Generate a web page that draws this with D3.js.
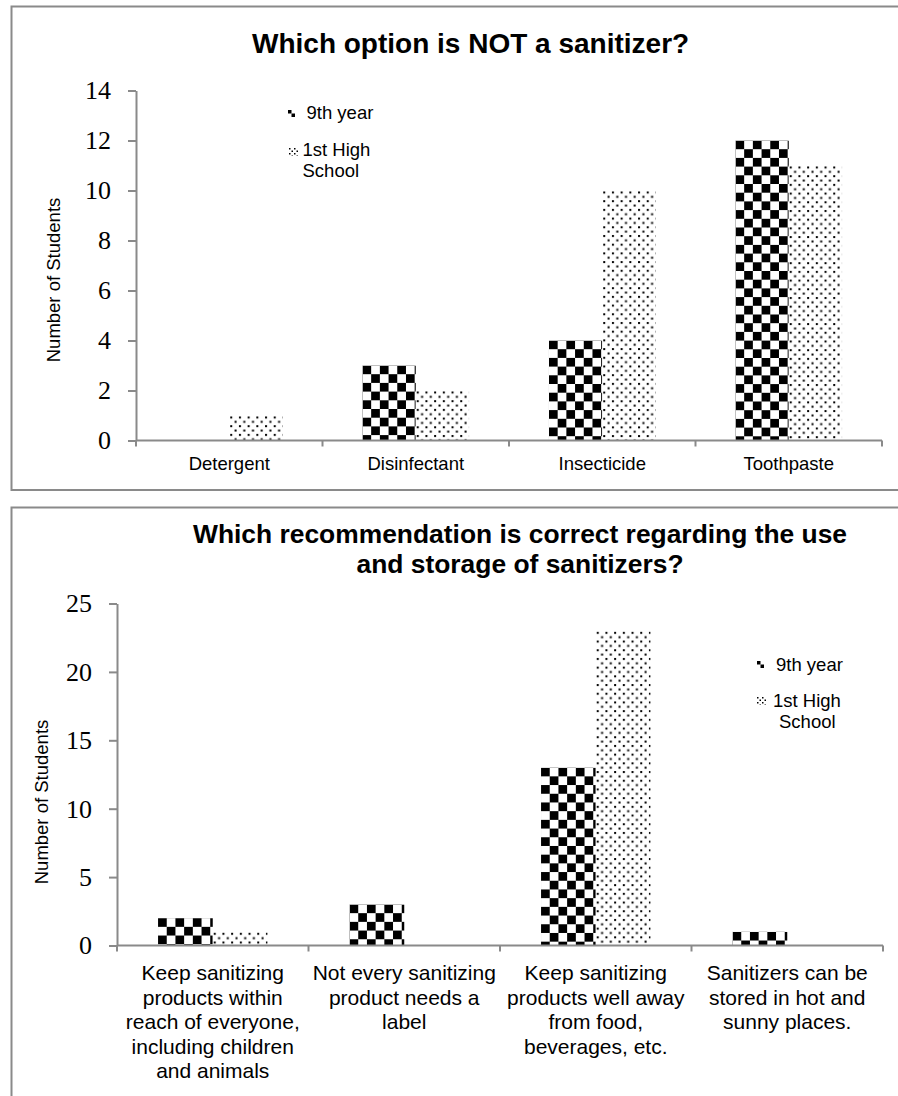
<!DOCTYPE html>
<html>
<head>
<meta charset="utf-8">
<script src="https://cdn.jsdelivr.net/npm/d3@7"></script>
<style>
  html, body { margin: 0; padding: 0; background: #fff; }
  svg { display: block; }
</style>
</head>
<body>
<div id="chart"></div>
<script>
// ---------- data ----------
const seriesNames = ["9th year", "1st High School"];

const cats1 = ["Detergent", "Disinfectant", "Insecticide", "Toothpaste"];
const ninth1 = [0, 3, 4, 12];
const highSchool1 = [1, 2, 10, 11];
const ticks1 = [0, 2, 4, 6, 8, 10, 12, 14];
const title1 = ["Which option is NOT a sanitizer?"];

const cats2 = [
  ["Keep sanitizing", "products within", "reach of everyone,", "including children", "and animals"],
  ["Not every sanitizing", "product needs a", "label"],
  ["Keep sanitizing", "products well away", "from food,", "beverages, etc."],
  ["Sanitizers can be", "stored in hot and", "sunny places."]
];
const ninth2 = [2, 3, 13, 1];
const highSchool2 = [1, 0, 23, 0];
const ticks2 = [0, 5, 10, 15, 20, 25];
const title2 = ["Which recommendation is correct regarding the use", "and storage of sanitizers?"];

const yTitle = "Number of Students";
const legendLines = [["9th year"], ["1st High", "School"]];

// ---------- drawing ----------
const W = 898, H = 1096;
const svg = d3.select("#chart").append("svg").attr("width", W).attr("height", H);
const defs = svg.append("defs");
const GRAY = "#8a8a8a";
const SANS = "Liberation Sans, Arial, sans-serif";
const SERIF = "Liberation Serif, 'Times New Roman', serif";

let pid = 0;
function checkerPattern(x, y, sq) {
  const id = "chk" + (pid++);
  const p = defs.append("pattern").attr("id", id).attr("patternUnits", "userSpaceOnUse")
    .attr("x", x).attr("y", y).attr("width", sq * 2).attr("height", sq * 2);
  p.append("rect").attr("width", sq * 2).attr("height", sq * 2).attr("fill", "#fff");
  p.append("rect").attr("x", 0).attr("y", 0).attr("width", sq).attr("height", sq).attr("fill", "#000");
  p.append("rect").attr("x", sq).attr("y", sq).attr("width", sq).attr("height", sq).attr("fill", "#000");
  return "url(#" + id + ")";
}
function dotPattern(x, y, s, d) {
  const id = "dot" + (pid++);
  const p = defs.append("pattern").attr("id", id).attr("patternUnits", "userSpaceOnUse")
    .attr("x", x).attr("y", y).attr("width", s).attr("height", s);
  p.append("rect").attr("width", s).attr("height", s).attr("fill", "#fff");
  p.append("rect").attr("x", 1).attr("y", 1).attr("width", d).attr("height", d).attr("fill", "#000");
  p.append("rect").attr("x", 1 + s / 2).attr("y", 1 + s / 2).attr("width", d).attr("height", d).attr("fill", "#000");
  return "url(#" + id + ")";
}

function drawChart(cfg) {
  const g = svg.append("g");
  // frame
  g.append("rect").attr("x", cfg.frame[0]).attr("y", cfg.frame[1])
    .attr("width", cfg.frame[2]).attr("height", cfg.frame[3])
    .attr("fill", "none").attr("stroke", GRAY).attr("stroke-width", 2);

  const x0 = d3.scaleBand().domain(d3.range(cfg.cats.length)).range([cfg.left, cfg.right])
    .paddingInner(0).paddingOuter(0);
  const x1 = d3.scaleBand().domain(d3.range(seriesNames.length)).range([0, x0.bandwidth()])
    .paddingInner(0).paddingOuter(0.75);
  const y = d3.scaleLinear().domain([0, cfg.ticks[cfg.ticks.length - 1]]).range([cfg.bottom, cfg.top]);

  // bars
  const values = [cfg.s1, cfg.s2];
  values.forEach((vals, si) => {
    vals.forEach((v, ci) => {
      if (v <= 0) return;
      const bx = x0(ci) + x1(si), by = y(v), bw = x1.bandwidth(), bh = y(0) - y(v);
      const fill = si === 0 ? checkerPattern(bx, by, 8.7) : dotPattern(bx, by, 8.7, 2);
      g.append("rect").attr("x", bx).attr("y", by).attr("width", bw).attr("height", bh).attr("fill", fill);
    });
  });

  // y axis
  const yAxis = d3.axisLeft(y).tickValues(cfg.ticks).tickSize(8).tickPadding(17).tickSizeOuter(0);
  const ya = g.append("g").attr("transform", `translate(${cfg.left},0)`).call(yAxis);
  ya.select(".domain").attr("stroke", GRAY).attr("stroke-width", 2);
  ya.selectAll(".tick line").attr("stroke", GRAY).attr("stroke-width", 2);
  ya.selectAll(".tick text").attr("font-family", SERIF).attr("font-size", 26).attr("fill", "#000");

  // x axis
  g.append("line").attr("x1", cfg.left).attr("x2", cfg.right).attr("y1", y(0)).attr("y2", y(0))
    .attr("stroke", GRAY).attr("stroke-width", 2);
  const bounds = d3.range(cfg.cats.length).map(i => x0(i)).concat([x0(cfg.cats.length - 1) + x0.bandwidth()]);
  bounds.forEach(b => {
    g.append("line").attr("x1", b).attr("x2", b).attr("y1", y(0)).attr("y2", y(0) + 6)
      .attr("stroke", GRAY).attr("stroke-width", 2);
  });
  cfg.cats.forEach((c, i) => {
    const lines = Array.isArray(c) ? c : [c];
    const t = g.append("text").attr("text-anchor", "middle").attr("font-family", SANS)
      .attr("font-size", cfg.catFont).attr("fill", "#000");
    lines.forEach((ln, li) => {
      t.append("tspan").attr("x", x0(i) + x0.bandwidth() / 2).attr("y", cfg.catY + li * cfg.catLH).text(ln);
    });
  });

  // y title
  g.append("text").attr("transform", `translate(${cfg.yTitle[0]},${cfg.yTitle[1]}) rotate(-90)`)
    .attr("text-anchor", "middle").attr("font-family", SANS).attr("font-size", 18.5).attr("fill", "#000")
    .text(yTitle);

  // chart title (first line starts at titleX, following lines centred on it)
  const first = g.append("text").attr("x", cfg.titleX).attr("y", cfg.titleY)
    .attr("font-family", SANS).attr("font-weight", "bold").attr("font-size", cfg.titleFont)
    .attr("fill", "#000").text(cfg.title[0]);
  const cx = cfg.titleX + first.node().getComputedTextLength() / 2;
  cfg.title.slice(1).forEach((ln, li) => {
    g.append("text").attr("x", cx).attr("y", cfg.titleY + (li + 1) * 30).attr("text-anchor", "middle")
      .attr("font-family", SANS).attr("font-weight", "bold").attr("font-size", cfg.titleFont)
      .attr("fill", "#000").text(ln);
  });

  // legend
  const L = cfg.legend;
  g.append("rect").attr("x", L.m1[0]).attr("y", L.m1[1]).attr("width", 7).attr("height", 7)
    .attr("fill", checkerPattern(L.m1[0], L.m1[1], 3.5));
  g.append("rect").attr("x", L.m2[0]).attr("y", L.m2[1]).attr("width", 9).attr("height", 8)
    .attr("fill", dotPattern(L.m2[0] - 1, L.m2[1] - 1, 5, 1.5));
  g.append("text").attr("x", L.t1[0]).attr("y", L.t1[1]).attr("font-family", SANS).attr("font-size", 18.5)
    .text(legendLines[0][0]);
  g.append("text").attr("x", L.t2[0]).attr("y", L.t2[1]).attr("font-family", SANS).attr("font-size", 18.5)
    .text(legendLines[1][0]);
  g.append("text").attr("x", L.t3[0]).attr("y", L.t3[1]).attr("font-family", SANS).attr("font-size", 18.5)
    .text(legendLines[1][1]);
}

drawChart({
  frame: [11.5, 6.5, 900, 483.5],
  left: 136, right: 882, top: 90.5, bottom: 440.5,
  cats: cats1, s1: ninth1, s2: highSchool1, ticks: ticks1,
  catFont: 18.5, catY: 470, catLH: 24,
  yTitle: [59.5, 280],
  title: title1, titleX: 252, titleY: 52.5, titleFont: 28,
  legend: { m1: [288, 110], m2: [289, 148], t1: [306.5, 119], t2: [302.5, 156], t3: [302.5, 177] }
});

drawChart({
  frame: [11.5, 507.5, 900, 620],
  left: 117, right: 883, top: 603.5, bottom: 945.5,
  cats: cats2, s1: ninth2, s2: highSchool2, ticks: ticks2,
  catFont: 21, catY: 980, catLH: 24.6,
  yTitle: [48.3, 802],
  title: title2, titleX: 193, titleY: 543, titleFont: 26.4,
  legend: { m1: [757, 661], m2: [757, 697], t1: [776, 671], t2: [773, 707], t3: [779, 728] }
});
</script>
</body>
</html>
